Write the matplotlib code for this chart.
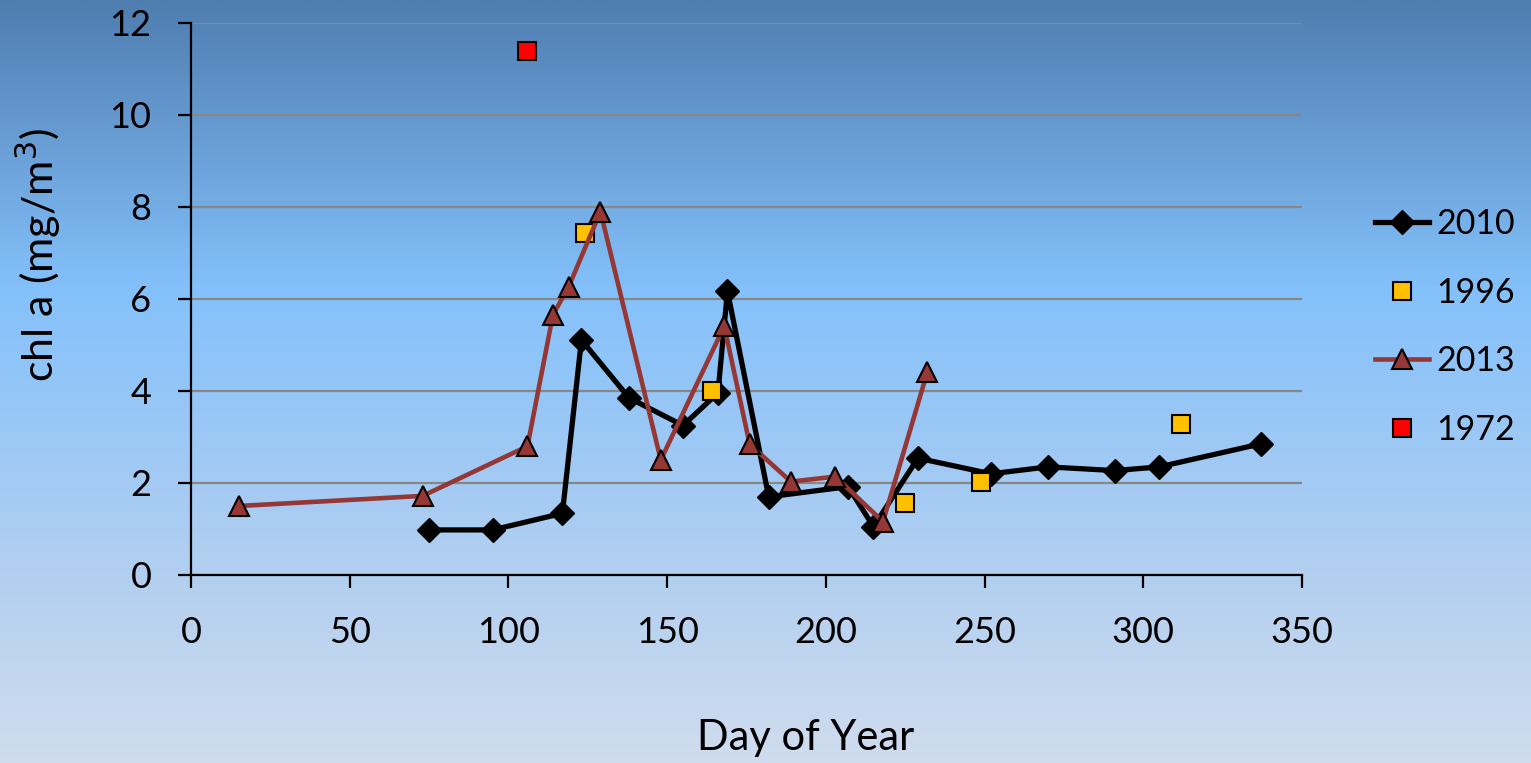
import numpy as np
import matplotlib.pyplot as plt
from matplotlib.colors import LinearSegmentedColormap

plt.rcParams['font.family'] = ['Lato', 'DejaVu Sans']

# chlorophyll a by day of year
day_2010 = [75, 95, 117, 123, 138, 155, 166, 169, 182, 207, 215, 229, 252, 270, 291, 305, 337]
chl_2010 = [0.98, 0.98, 1.34, 5.11, 3.85, 3.25, 3.96, 6.17, 1.70, 1.92, 1.05, 2.54, 2.20, 2.35, 2.27, 2.35, 2.85]

day_1996 = [124, 164, 225, 249, 312]
chl_1996 = [7.43, 3.99, 1.57, 2.02, 3.28]

day_2013 = [15, 73, 106, 114, 119, 129, 148, 168, 176, 189, 203, 218, 232]
chl_2013 = [1.50, 1.72, 2.80, 5.65, 6.27, 7.90, 2.50, 5.41, 2.84, 2.03, 2.14, 1.16, 4.42]

day_1972 = [106]
chl_1972 = [11.40]

W, H = 1531, 763
fig = plt.figure(figsize=(W / 100, H / 100), dpi=100)

# vertical gradient behind everything
bg = fig.add_axes([0, 0, 1, 1], zorder=-10)
cmap = LinearSegmentedColormap.from_list(
    'sky', [(0.0, '#4f7db0'), (0.38, '#84c1fb'), (0.75, '#b2cff0'), (1.0, '#d0dcee')])
bg.imshow(np.linspace(0, 1, 256).reshape(-1, 1), aspect='auto', cmap=cmap,
          extent=[0, 1, 0, 1])
bg.axis('off')

ax = fig.add_axes([191 / W, 1 - 575 / H, (1302 - 191) / W, (575 - 23) / H])
ax.patch.set_alpha(0)

ax.plot(day_2010, chl_2010, color='black', lw=3.8, marker='D', ms=12,
        mfc='black', mec='black', label='2010', zorder=3)
ax.plot(day_1996, chl_1996, ls='none', marker='s', ms=13, mfc='#ffc000',
        mec='black', mew=1.5, label='1996', zorder=4)
ax.plot(day_2013, chl_2013, color='#953735', lw=3.3, marker='^', ms=14,
        mfc='#953735', mec='black', mew=1.5, label='2013', zorder=5)
ax.plot(day_1972, chl_1972, ls='none', marker='s', ms=13, mfc='#ff0000',
        mec='black', mew=1.5, label='1972', zorder=6)

ax.set_xlim(0, 350)
ax.set_ylim(0, 12)
ax.set_xticks(range(0, 351, 50))
ax.set_yticks(range(0, 13, 2))
ax.yaxis.grid(True, color='#878787', lw=1.6)
ax.set_axisbelow(True)
for s in ['top', 'right']:
    ax.spines[s].set_visible(False)
for s in ['left', 'bottom']:
    ax.spines[s].set_linewidth(1.6)
ax.tick_params(axis='both', labelsize=26, width=1.6, length=9.5, direction='out')
ax.tick_params(axis='x', pad=20)
ax.tick_params(axis='y', pad=19)

ax.set_xlabel('Day of Year', fontsize=30, va='baseline')
ax.xaxis.set_label_coords(0.5536, -(750 - 575) / 552)
ax.set_ylabel('chl a (mg/m$^3$)', fontsize=31, va='center')
ax.yaxis.set_label_coords((38 - 191) / 1111, (575 - 255) / 552)

ax.legend(loc='center left', bbox_to_anchor=(1375 / W, 1 - 327 / H),
          bbox_transform=fig.transFigure, frameon=False, fontsize=24.5,
          handlelength=1.6, handletextpad=0.2, labelspacing=1.07,
          borderpad=0, borderaxespad=0)

fig.savefig('out.png', dpi=100)
